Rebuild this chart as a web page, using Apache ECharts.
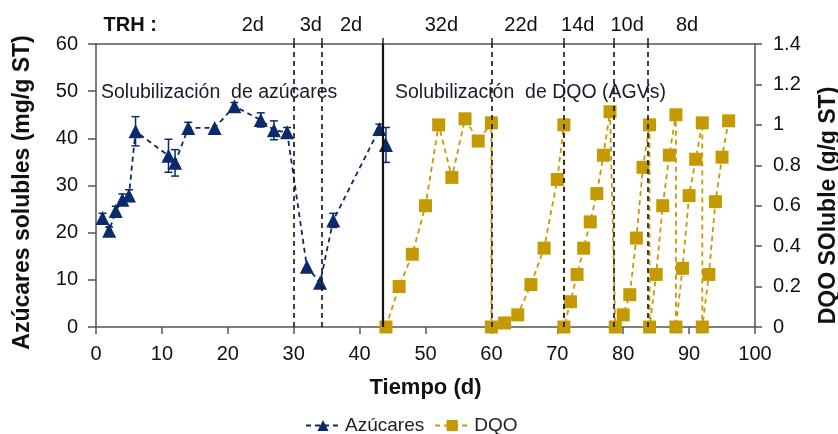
<!DOCTYPE html>
<html>
<head>
<meta charset="utf-8">
<script src="https://cdn.jsdelivr.net/npm/echarts@6/dist/echarts.min.js"></script>
<style>
html,body{margin:0;padding:0;background:#fff;}
#chart{width:838px;height:434px;}
</style>
</head>
<body>
<div id="chart"></div>
<script>
// ---- data ----
const azDays = [1, 2, 3, 4, 5, 6, 11, 12, 14, 18, 21, 25, 27, 29, 32, 34, 36, 43, 44];
const azValues = [23.1, 20.4, 24.6, 27.0, 27.9, 41.5, 36.3, 34.8, 42.2, 42.2, 46.8, 43.9, 41.7, 41.3, 12.8, 9.4, 22.6, 42.0, 38.6];
const azErrors = [1.0, 0.8, 1.0, 1.2, 1.2, 3.1, 3.5, 2.8, 1.2, 0, 0.8, 1.5, 2.0, 1.0, 0, 0, 1.5, 1.0, 3.7];

const dqoDays = [44, 46, 48, 50, 52, 54, 56, 58, 60,
                 60, 62, 64, 66, 68, 70, 71,
                 71, 72, 73, 74, 75, 76, 77, 78,
                 78.8, 80, 81, 82, 83, 84,
                 84, 85, 86, 87, 88,
                 88, 89, 90, 91, 92,
                 92, 93, 94, 95, 96];
const dqoValues = [0, 0.20, 0.36, 0.60, 1.00, 0.74, 1.03, 0.92, 1.01,
                   0, 0.02, 0.06, 0.21, 0.39, 0.73, 1.00,
                   0, 0.125, 0.26, 0.39, 0.52, 0.66, 0.85, 1.065,
                   0, 0.06, 0.16, 0.44, 0.79, 1.00,
                   0, 0.26, 0.60, 0.85, 1.05,
                   0, 0.29, 0.65, 0.83, 1.01,
                   0, 0.26, 0.62, 0.84, 1.02];

const trhBounds = [30, 34.3, 60, 71, 78.5, 83.8];
const phaseBound = 43.5;
const trhLabelPos = [5.2, 23.8, 32.6, 38.7, 52.4, 64.5, 73.1, 80.6, 89.7];
const trhLabels = ['TRH :', '2d', '3d', '2d', '32d', '22d', '14d', '10d', '8d'];

const xTicks = {min: 0, max: 100, interval: 10};
const yLeftTicks = {min: 0, max: 60, interval: 10};
const yRightTicks = {min: 0, max: 1.4, interval: 0.2};

// ---- styles ----
const NAVY = '#0B2A6B';
const GOLD = '#C49A00';
const AXIS = '#555555';
const FONT = 'Liberation Sans, Arial, sans-serif';

const chart = echarts.init(document.getElementById('chart'));

const azData = azDays.map((d, i) => [d, azValues[i]]);
const azErrData = azDays.map((d, i) => [d, azValues[i], azErrors[i]]);
const dqoData = dqoDays.map((d, i) => [d, dqoValues[i]]);

const allTopTicks = trhBounds.concat([phaseBound]).sort((a, b) => a - b);

const option = {
  animation: false,
  textStyle: {fontFamily: FONT},
  grid: {left: 96, right: 83, top: 44, bottom: 107, containLabel: false, outerBoundsMode: 'none'},
  legend: {
    top: 411,
    left: 300,
    data: ['Azúcares', 'DQO'],
    itemWidth: 34,
    itemHeight: 14,
    itemGap: 10,
    textStyle: {fontSize: 19, color: '#222', fontFamily: FONT}
  },
  graphic: [
    {type: 'text', left: 101, top: 83, style: {text: 'Solubilización  de azúcares', fill: '#1a1a2e', font: '19.5px ' + FONT}},
    {type: 'text', left: 395, top: 83, style: {text: 'Solubilización  de DQO (AGVs)', fill: '#1a1a2e', font: '19.5px ' + FONT}}
  ],
  xAxis: [
    {
      type: 'value', position: 'bottom', min: xTicks.min, max: xTicks.max, interval: xTicks.interval,
      name: 'Tiempo (d)', nameLocation: 'middle', nameGap: 50,
      nameTextStyle: {fontSize: 22, fontWeight: 'bold', color: '#111', fontFamily: FONT},
      axisLine: {show: true, onZero: false, lineStyle: {color: AXIS, width: 1.5}},
      axisTick: {show: true, inside: false, length: 7, lineStyle: {color: AXIS, width: 1.5}},
      axisLabel: {fontSize: 20, color: '#111', margin: 17, fontFamily: FONT},
      splitLine: {show: false}
    },
    {
      type: 'value', position: 'top', min: xTicks.min, max: xTicks.max,
      axisLine: {show: true, onZero: false, lineStyle: {color: AXIS, width: 1.5}},
      axisTick: {show: true, inside: false, length: 6, customValues: allTopTicks, lineStyle: {color: '#222', width: 1.5}},
      axisLabel: {
        show: true, customValues: trhLabelPos, margin: 9, fontSize: 20, color: '#111', fontFamily: FONT,
        formatter: function (v) {
          let idx = 0, best = 1e9;
          trhLabelPos.forEach((p, i) => { if (Math.abs(p - v) < best) { best = Math.abs(p - v); idx = i; } });
          return idx === 0 ? '{b|' + trhLabels[idx] + '}' : trhLabels[idx];
        },
        rich: {b: {fontWeight: 'bold', fontSize: 20, color: '#111', fontFamily: FONT}}
      },
      splitLine: {show: false}
    }
  ],
  yAxis: [
    {
      type: 'value', position: 'left', min: yLeftTicks.min, max: yLeftTicks.max, interval: yLeftTicks.interval,
      name: 'Azúcares solubles (mg/g ST)', nameLocation: 'middle', nameGap: 62, nameRotate: 90,
      nameTextStyle: {fontSize: 23, fontWeight: 'bold', color: '#111', fontFamily: FONT, padding: [0, 14, 0, 0]},
      axisLine: {show: true, onZero: false, lineStyle: {color: AXIS, width: 1.5}},
      axisTick: {show: true, inside: false, length: 8, lineStyle: {color: AXIS, width: 1.5}},
      axisLabel: {fontSize: 20, color: '#111', margin: 18, fontFamily: FONT},
      splitLine: {show: false}
    },
    {
      type: 'value', position: 'right', min: yRightTicks.min, max: yRightTicks.max, interval: yRightTicks.interval,
      name: 'DQO SOluble (g/g ST)', nameLocation: 'middle', nameGap: 62, nameRotate: 90,
      nameTextStyle: {fontSize: 23, fontWeight: 'bold', color: '#111', fontFamily: FONT, padding: [0, 40, 0, 0]},
      axisLine: {show: true, onZero: false, lineStyle: {color: AXIS, width: 1.5}},
      axisTick: {show: true, inside: false, length: 7, lineStyle: {color: AXIS, width: 1.5}},
      axisLabel: {fontSize: 20, color: '#111', margin: 18, fontFamily: FONT},
      splitLine: {show: false}
    }
  ],
  series: [
    {
      name: 'bounds', type: 'line', xAxisIndex: 0, yAxisIndex: 0, data: [], silent: true,
      markLine: {
        silent: true, symbol: 'none', label: {show: false}, animation: false,
        data: trhBounds.map(v => ({xAxis: v, lineStyle: {type: [5, 4], color: '#111', width: 1.6}}))
          .concat([{xAxis: phaseBound, lineStyle: {type: 'solid', color: '#111', width: 2.2}}])
      }
    },
    {
      name: 'errAz', type: 'custom', xAxisIndex: 0, yAxisIndex: 0, data: azErrData, z: 3,
      encode: {x: 0, y: 1},
      renderItem: function (params, api) {
        const x = api.value(0), y = api.value(1), e = api.value(2);
        if (!e) return null;
        const t = api.coord([x, y + e]);
        const b = api.coord([x, y - e]);
        const w = 4;
        const st = {stroke: NAVY, lineWidth: 1.5};
        return {
          type: 'group',
          children: [
            {type: 'line', shape: {x1: t[0], y1: t[1], x2: b[0], y2: b[1]}, style: st},
            {type: 'line', shape: {x1: t[0] - w, y1: t[1], x2: t[0] + w, y2: t[1]}, style: st},
            {type: 'line', shape: {x1: b[0] - w, y1: b[1], x2: b[0] + w, y2: b[1]}, style: st}
          ]
        };
      }
    },
    {
      name: 'Azúcares', type: 'line', xAxisIndex: 0, yAxisIndex: 0, data: azData, z: 4,
      symbol: 'triangle', symbolSize: 14,
      itemStyle: {color: NAVY},
      lineStyle: {color: NAVY, width: 1.8, type: [5, 4]}
    },
    {
      name: 'DQO', type: 'line', xAxisIndex: 0, yAxisIndex: 1, data: dqoData, z: 4,
      symbol: 'rect', symbolSize: 13,
      itemStyle: {color: GOLD},
      lineStyle: {color: GOLD, width: 1.8, type: [5, 4]}
    }
  ]
};
chart.setOption(option);
</script>
</body>
</html>
